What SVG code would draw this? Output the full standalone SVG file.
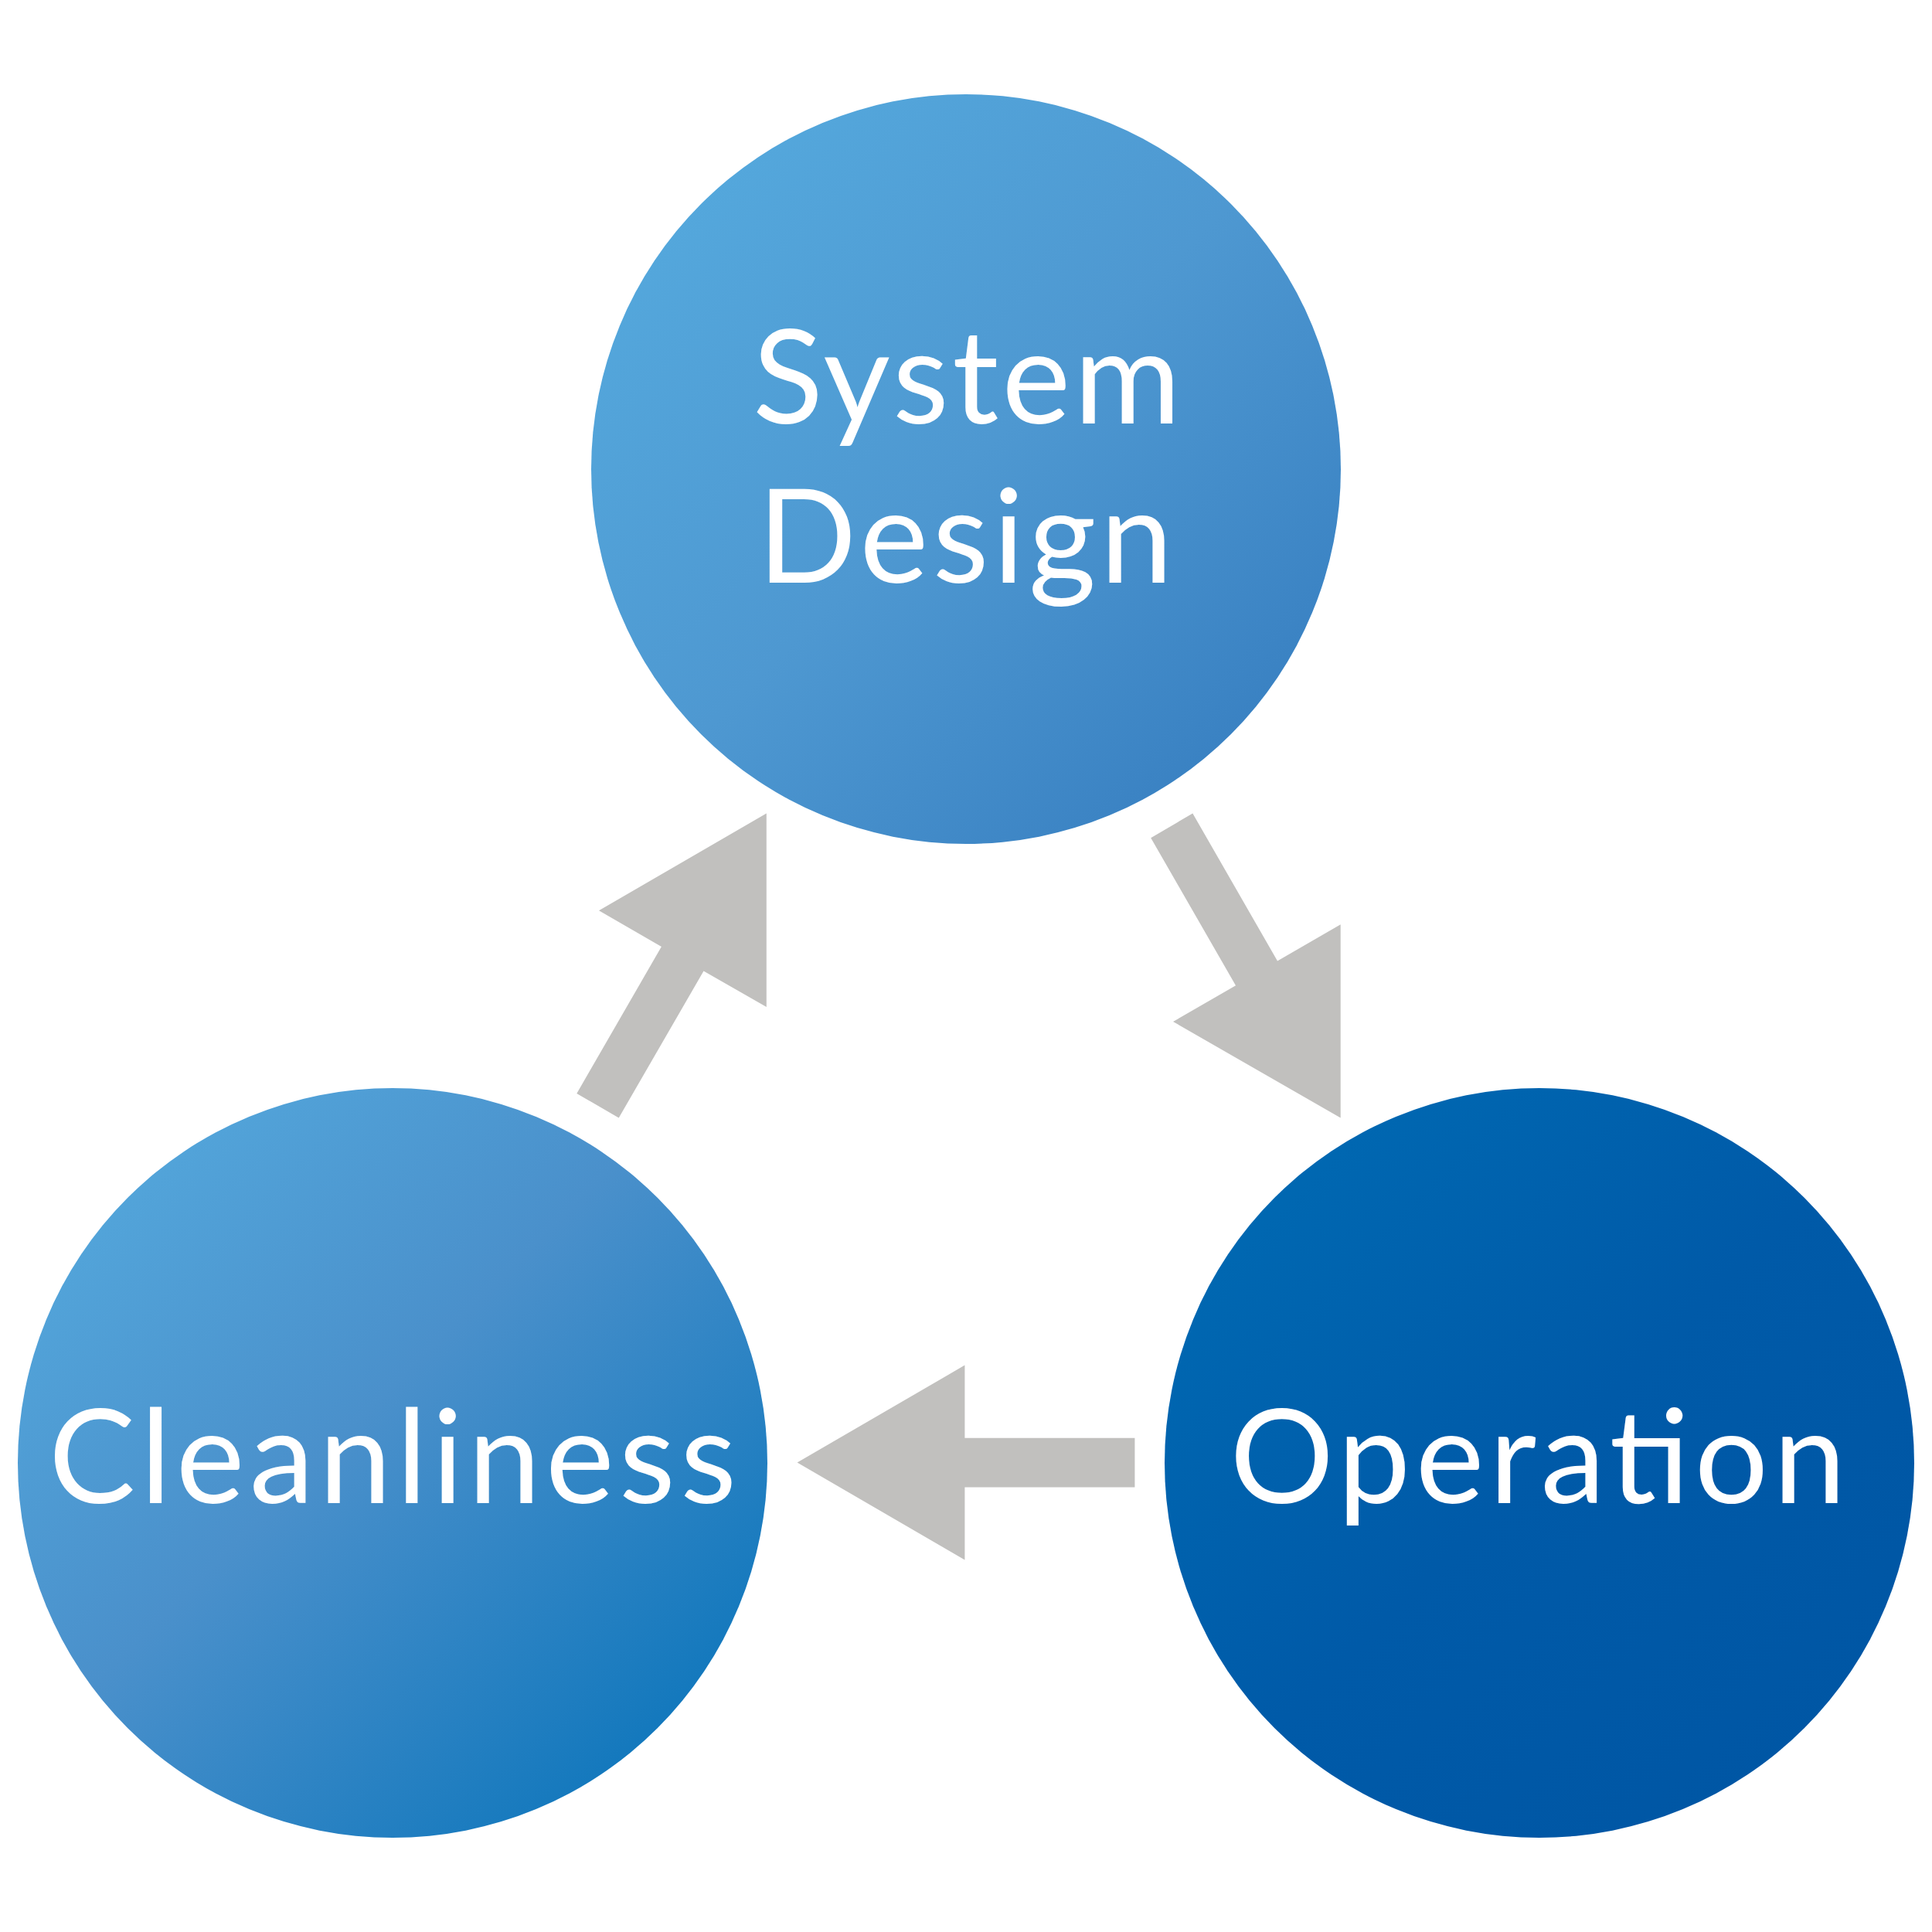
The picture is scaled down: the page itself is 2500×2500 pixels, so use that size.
<svg xmlns="http://www.w3.org/2000/svg" width="2500" height="2500" viewBox="0 0 2500 2500">
<defs>
<linearGradient id="gTop" x1="0" y1="0" x2="1" y2="1">
<stop offset="0" stop-color="#56ADE0"/>
<stop offset="0.5" stop-color="#4E98D1"/>
<stop offset="1" stop-color="#3279BD"/>
</linearGradient>
<linearGradient id="gLeft" x1="0" y1="0" x2="1" y2="1">
<stop offset="0" stop-color="#56ADE0"/>
<stop offset="0.45" stop-color="#4A90CB"/>
<stop offset="1" stop-color="#0070B8"/>
</linearGradient>
<linearGradient id="gRight" x1="0" y1="0" x2="1" y2="1">
<stop offset="0" stop-color="#006DB5"/>
<stop offset="0.5" stop-color="#005AA8"/>
<stop offset="1" stop-color="#0055A3"/>
</linearGradient>
<style>
.lbl{font-family:Lato,"Open Sans","Liberation Sans",sans-serif;font-size:168px;fill:#FFFFFF;text-anchor:middle}
.arrow{fill:#C1C0BE}
</style>
</defs>
<rect width="2500" height="2500" fill="#FFFFFF"/>
<g id="connectors">
<polygon class="arrow" points="991.8,1052.5 991.8,1303 910.5,1256.5 800.7,1446.5 746.3,1415 855.9,1225 775,1178.3"/>
<polygon class="arrow" points="1543.3,1052.5 1489.2,1084.3 1599,1275.2 1518,1322 1734.7,1446.5 1734.7,1196.3 1653,1243.5"/>
<polygon class="arrow" points="1468.4,1860.7 1248.4,1860.7 1248.4,1766.6 1031.6,1892.6 1248.4,2018.6 1248.4,1924.5 1468.4,1924.5"/>
</g>
<g id="node-system-design">
<circle cx="1250" cy="607" r="485" fill="url(#gTop)"/>
<text class="lbl" x="1251" y="548" textLength="554" lengthAdjust="spacing">System</text>
<text class="lbl" x="1249" y="754" textLength="537" lengthAdjust="spacing">Design</text>
</g>
<g id="node-cleanliness">
<circle cx="508" cy="1893" r="485" fill="url(#gLeft)"/>
<text class="lbl" x="508" y="1945" textLength="890" lengthAdjust="spacing">Cleanliness</text>
</g>
<g id="node-operation">
<circle cx="1992" cy="1893" r="485" fill="url(#gRight)"/>
<text class="lbl" x="1990" y="1945" textLength="797" lengthAdjust="spacing">Operation</text>
</g>
</svg>
